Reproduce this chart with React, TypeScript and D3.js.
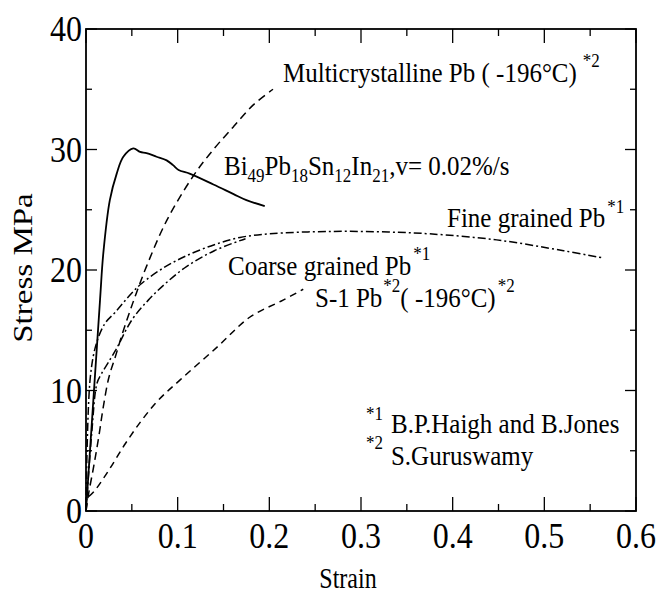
import React from "react";
import * as d3 from "d3";

type P = [number, number];

// strain, stress (MPa)
const biPbSnIn: P[] = [
  [0, 0], [0.0153, 17.5], [0.0189, 21.4], [0.026, 25.8], [0.0335, 28.0], [0.0407, 29.4],
  [0.0516, 30.1], [0.059, 29.8], [0.066, 29.7], [0.077, 29.4], [0.088, 29.1], [0.095, 28.7],
  [0.101, 28.3], [0.113, 28.0], [0.139, 27.1], [0.161, 26.3], [0.175, 25.8], [0.195, 25.3],
];
const multiPb: P[] = [
  [0, 0], [0.003, 1.5], [0.0084, 3.7], [0.014, 6.2], [0.019, 8.7], [0.025, 11.1], [0.032, 12.8],
  [0.04, 14.8], [0.048, 16.6], [0.055, 18.1], [0.066, 20.3], [0.088, 24.1], [0.117, 27.8],
  [0.139, 30.0], [0.161, 31.9], [0.1825, 33.7], [0.204, 35.0],
];
const finePb: P[] = [
  [0, 0], [0.0047, 11.1], [0.0117, 14.0], [0.021, 15.6], [0.032, 16.5], [0.05, 18.1],
  [0.061, 18.9], [0.085, 20.2], [0.11, 21.2], [0.14, 22.1], [0.168, 22.7], [0.2, 23.0],
  [0.266, 23.2], [0.33, 23.15], [0.375, 23.0], [0.448, 22.5], [0.521, 21.6], [0.564, 21.0],
];
const coarsePb: P[] = [
  [0, 0], [0.0065, 6.7], [0.012, 10.6], [0.017, 11.4], [0.032, 13.3], [0.05, 15.85],
  [0.068, 17.5], [0.087, 18.9], [0.11, 20.3], [0.14, 21.6], [0.174, 22.6],
];
const s1Pb: P[] = [
  [0.003, 1.2], [0.01, 1.74], [0.025, 3.4], [0.043, 5.6], [0.061, 7.55], [0.079, 9.2],
  [0.103, 10.9], [0.143, 13.6], [0.179, 16.1], [0.215, 17.5], [0.237, 18.4],
];

const xTicks = [0, 0.1, 0.2, 0.3, 0.4, 0.5, 0.6];
const xTickLabels = ["0", "0.1", "0.2", "0.3", "0.4", "0.5", "0.6"];
const xMinor = [0.05, 0.15, 0.25, 0.35, 0.45, 0.55];
const yTicks = [0, 10, 20, 30, 40];
const yTickLabels = ["0", "10", "20", "30", "40"];
const yMinor = [5, 15, 25, 35];

const W = 660, H = 594;
const m = { left: 86, right: 636, top: 29, bottom: 511 };
const FONT = "'Liberation Serif', 'Times New Roman', serif";
const K = 1.15;
const KA = 1.12;

export default function App() {
  const x = d3.scaleLinear().domain([0, 0.6]).range([m.left, m.right]);
  const y = d3.scaleLinear().domain([0, 40]).range([m.bottom, m.top]);
  const line = d3.line<P>().x(d => x(d[0])).y(d => y(d[1])).curve(d3.curveCatmullRom.alpha(0.5));

  const ann = (px: number, py: number) => `translate(${x(px)},${y(py)}) scale(1,${KA})`;
  const sup = { fontSize: 17 };

  return (
    <svg width={W} height={H} style={{ position: "absolute", left: 0, top: 0, background: "#fff" }}
      fontFamily={FONT}>
      <rect x={0} y={0} width={W} height={H} fill="#fff" />
      {/* curves */}
      <g fill="none" stroke="#000">
        <path d={line(biPbSnIn)!} strokeWidth={1.8} />
        <path d={line(multiPb)!} strokeWidth={1.5} strokeDasharray="8,5" />
        <path d={line(s1Pb)!} strokeWidth={1.5} strokeDasharray="7,5" />
        <path d={line(finePb)!} strokeWidth={1.5} strokeDasharray="8,3,2,3" />
        <path d={line(coarsePb)!} strokeWidth={1.5} strokeDasharray="8,3,2,3" />
      </g>
      {/* frame */}
      <rect x={m.left} y={m.top} width={m.right - m.left} height={m.bottom - m.top}
        fill="none" stroke="#000" strokeWidth={1.8} />
      <g stroke="#000" strokeWidth={1.3}>
        {xTicks.map(t => (
          <g key={"xt" + t}>
            <line x1={x(t)} x2={x(t)} y1={m.bottom} y2={m.bottom - 14} />
            <line x1={x(t)} x2={x(t)} y1={m.top} y2={m.top + 14} />
          </g>
        ))}
        {xMinor.map(t => (
          <g key={"xm" + t}>
            <line x1={x(t)} x2={x(t)} y1={m.bottom} y2={m.bottom - 7} />
            <line x1={x(t)} x2={x(t)} y1={m.top} y2={m.top + 7} />
          </g>
        ))}
        {yTicks.map(t => (
          <g key={"yt" + t}>
            <line x1={m.left} x2={m.left + 11} y1={y(t)} y2={y(t)} />
            <line x1={m.right} x2={m.right - 11} y1={y(t)} y2={y(t)} />
          </g>
        ))}
        {yMinor.map(t => (
          <g key={"ym" + t}>
            <line x1={m.left} x2={m.left + 6} y1={y(t)} y2={y(t)} />
            <line x1={m.right} x2={m.right - 6} y1={y(t)} y2={y(t)} />
          </g>
        ))}
      </g>
      {/* tick labels */}
      <g fontSize={32} fill="#000">
        {xTicks.map((t, i) => (
          <text key={"xl" + t} transform={`translate(${x(t)},${m.bottom + 37}) scale(1,${K})`}
            textAnchor="middle">{xTickLabels[i]}</text>
        ))}
        {yTicks.map((t, i) => (
          <text key={"yl" + t} transform={`translate(${m.left - 4},${y(t) + 12}) scale(1,${K})`}
            textAnchor="end">{yTickLabels[i]}</text>
        ))}
      </g>
      {/* axis titles */}
      <text transform={`translate(${(m.left + m.right) / 2 - 13},588) scale(1,1.2)`} fontSize={24}
        textAnchor="middle">Strain</text>
      <text transform={`translate(32,${(m.top + m.bottom) / 2 - 2}) rotate(-90) scale(1.18,1)`} fontSize={28}
        textAnchor="middle">Stress MPa</text>
      {/* annotations */}
      <g fontSize={25} fill="#000">
        <text transform={ann(0.2149, 35.6)}>
          Multicrystalline Pb ( -196°C)<tspan dx={6} dy={-13} style={sup}>*2</tspan>
        </text>
        <text transform={ann(0.1505, 27.88)}>
          Bi<tspan dy={6} fontSize={17}>49</tspan>
          <tspan dy={-6}>Pb</tspan><tspan dy={6} fontSize={17}>18</tspan>
          <tspan dy={-6}>Sn</tspan><tspan dy={6} fontSize={17}>12</tspan>
          <tspan dy={-6}>In</tspan><tspan dy={6} fontSize={17}>21</tspan>
          <tspan dy={-6}>,v= 0.02%/s</tspan>
        </text>
        <text transform={ann(0.3938, 23.59)}>
          Fine grained Pb<tspan dx={2} dy={-12} style={sup}>*1</tspan>
        </text>
        <text transform={ann(0.1549, 19.59)}>
          Coarse grained Pb<tspan dx={2} dy={-13} style={sup}>*1</tspan>
        </text>
        <text transform={ann(0.2498, 16.93)}>
          S-1 Pb<tspan dx={1} dy={-13} style={sup}>*2</tspan><tspan dy={13}>( -196°C)</tspan>
          <tspan dx={2} dy={-13} style={sup}>*2</tspan>
        </text>
        <text transform={ann(0.3349, 6.47)}>
          <tspan dx={-27} dy={-12} style={sup}>*1</tspan><tspan dx={8} dy={12}>B.P.Haigh and B.Jones</tspan>
        </text>
        <text transform={ann(0.3349, 3.82)}>
          <tspan dx={-27} dy={-14} style={sup}>*2</tspan><tspan dx={8} dy={14}>S.Guruswamy</tspan>
        </text>
      </g>
    </svg>
  );
}
